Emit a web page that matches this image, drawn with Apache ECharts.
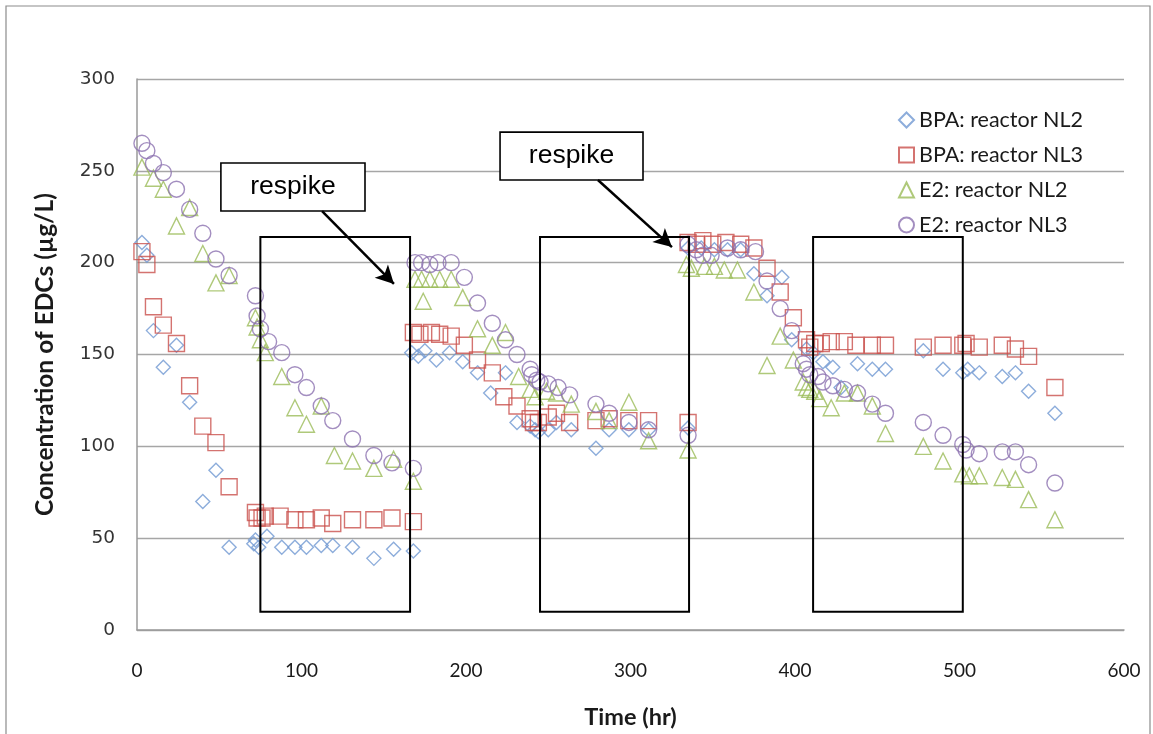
<!DOCTYPE html>
<html>
<head>
<meta charset="utf-8">
<title>Concentration of EDCs over time</title>
<script src="https://cdn.jsdelivr.net/npm/echarts@6/dist/echarts.min.js"></script>
<style>
  html, body { margin: 0; padding: 0; background: #fff; }
  #chart { width: 1153px; height: 734px; }
</style>
</head>
<body>
<div id="chart"></div>
<script>
// Axis ticks
const xTicks = { min: 0, max: 600, step: 100 };
const yTicks = { min: 0, max: 300, step: 50 };

// Measurements: [time (hr), concentration (µg/L)]
const bpaNL2 = [
  [3,211],[6,204],[10,163],[16,143],[24,155],[32,124],[40,70],[48,87],[56,45],[71,47],[72,49],[74,45],[79,51],
  [88,45],[96,45],[103,45],[112,46],[119,46],[131,45],[144,39],[156,44],[168,43],
  [167,151],[171,149],[175,152],[182,147],[190,151],[198,146],[207,140],[215,129],[224,140],[231,113],[239,111],
  [242,109],[244,108],[250,109],[255,113],[264,109],[279,99],[287,109],[299,109],[311,109],[335,110],
  [335,208],[343,208],[351,207],[359,207],[367,207],[375,194],[383,182],[392,192],[398,158],[407,153],[411,151],
  [417,146],[423,143],[428,132],[438,145],[447,142],[455,142],[478,152],[490,142],[502,140],[505,142],[512,140],
  [526,138],[534,140],[542,130],[558,118]
];
const bpaNL3 = [
  [3,206],[6,199],[10,176],[16,166],[24,156],[32,133],[40,111],[48,102],[56,78],[72,64],[73,61],[76,61],[78,62],
  [87,62],[96,60],[103,60],[112,61],[119,58],[131,60],[144,60],[155,61],[168,59],
  [168,162],[172,161],[179,162],[184,161],[191,160],[199,155],[207,147],[216,140],[223,127],[231,122],[239,115],
  [241,113],[244,113],[250,116],[255,118],[263,113],[279,114],[287,115],[299,114],[311,114],[335,113],
  [335,211],[340,210],[344,212],[350,210],[358,211],[367,210],[375,208],[383,197],[391,184],[399,170],[407,158],
  [409,154],[412,156],[416,156],[422,157],[430,157],[437,155],[447,155],[455,155],[478,154],[490,155],[502,155],
  [504,156],[512,154],[526,155],[534,153],[542,149],[558,132]
];
const e2NL2 = [
  [3,252],[10,246],[16,240],[24,220],[32,230],[40,205],[48,189],[56,193],[72,170],[73,165],[75,158],[78,151],
  [88,138],[96,121],[103,112],[112,122],[120,95],[131,92],[144,88],[156,93],[168,81],
  [169,191],[173,191],[174,179],[178,191],[184,191],[191,191],[198,181],[207,164],[216,155],[224,162],[232,138],
  [239,131],[242,127],[249,130],[255,129],[264,123],[279,119],[287,114],[299,124],[311,103],[335,98],
  [334,199],[337,197],[345,198],[351,198],[357,196],[365,196],[375,184],[383,144],[391,160],[399,147],[405,135],
  [407,132],[409,131],[412,130],[415,126],[422,121],[430,129],[438,129],[447,122],[455,107],[478,100],[490,92],
  [502,85],[506,84],[512,84],[526,83],[534,82],[542,71],[558,60]
];
const e2NL3 = [
  [3,265],[6,261],[10,254],[16,249],[24,240],[32,229],[40,216],[48,202],[56,193],[72,182],[73,171],[75,164],
  [80,157],[88,151],[96,139],[103,132],[112,122],[119,114],[131,104],[144,95],[155,91],[168,88],
  [169,200],[173,200],[178,199],[183,200],[191,200],[199,192],[207,178],[216,167],[224,158],[231,150],[239,142],
  [240,139],[243,136],[245,135],[250,134],[256,132],[263,128],[279,123],[287,118],[299,113],[311,109],[335,106],
  [335,210],[340,207],[344,204],[349,204],[359,208],[367,207],[376,206],[383,190],[391,175],[398,163],[405,145],
  [407,142],[409,139],[414,138],[417,135],[423,133],[430,131],[438,129],[447,123],[455,118],[478,113],[490,106],
  [502,101],[504,98],[512,96],[526,97],[534,97],[542,90],[558,80]
];

// Respike monitoring windows: [start hr, end hr]
const windows = [[75, 166], [245, 335.6], [411, 502]];
const windowRange = [10, 214];

// "respike" callouts: box [t0, t1, c0, c1] and arrow [from, to]
const callouts = [
  { box: [51, 138.6, 228.1, 254.3], arrow: [[112.5, 228.1], [156.2, 188.4]] },
  { box: [220.7, 307.6, 245, 271.1], arrow: [[280.2, 245], [325.2, 208.5]] }
];

const seriesDefs = [
  { name: 'BPA: reactor NL2', data: bpaNL2, symbol: 'diamond', size: 14, color: '#7099d2' },
  { name: 'BPA: reactor NL3', data: bpaNL3, symbol: 'rect', size: 16, color: '#c9504c' },
  { name: 'E2: reactor NL2', data: e2NL2, symbol: 'triangle', size: 16, color: '#9bbb59' },
  { name: 'E2: reactor NL3', data: e2NL3, symbol: 'circle', size: 16, color: '#8c72b0' }
];

const labelFont = 'Lato, "Open Sans", sans-serif';

const series = seriesDefs.map(d => ({
  name: d.name,
  type: 'scatter',
  data: d.data,
  symbol: d.symbol,
  symbolSize: d.size,
  itemStyle: { color: 'rgba(255,255,255,0)', borderColor: d.color, borderWidth: 1.4 },
  emphasis: { disabled: true },
  z: 3
}));

// Annotation layer: windows, callout boxes and arrows
series.push({
  name: 'annotations',
  type: 'scatter',
  data: [],
  silent: true,
  z: 4,
  markArea: {
    silent: true,
    z: 4,
    data: windows.map(w => [
      { coord: [w[0], windowRange[0]], itemStyle: { color: 'rgba(0,0,0,0)', borderColor: '#000', borderWidth: 2 } },
      { coord: [w[1], windowRange[1]] }
    ]).concat(callouts.map(c => [
      {
        coord: [c.box[0], c.box[2]],
        itemStyle: { color: '#fff', borderColor: '#000', borderWidth: 1.6 },
        label: {
          show: true, position: 'inside', formatter: 'respike',
          color: '#000', fontSize: 26.5, fontFamily: '"Liberation Sans", Arial, sans-serif'
        }
      },
      { coord: [c.box[1], c.box[3]] }
    ])),
    label: { show: false }
  },
  markLine: {
    silent: true,
    z: 4,
    symbol: ['none', 'arrow'],
    symbolSize: [14, 18],
    label: { show: false },
    lineStyle: { color: '#000', width: 2.5, type: 'solid' },
    data: callouts.map(c => [{ coord: c.arrow[0] }, { coord: c.arrow[1] }])
  }
});

const chart = echarts.init(document.getElementById('chart'), null, { renderer: 'canvas' });
chart.setOption({
  animation: false,
  backgroundColor: '#fff',
  grid: { left: 137, right: 29, top: 79, bottom: 104 },
  graphic: [{
    type: 'rect',
    shape: { x: 6, y: 6, width: 1144, height: 740 },
    style: { fill: 'none', stroke: '#8c8c8c', lineWidth: 1.2 },
    silent: true
  }],
  legend: {
    orient: 'vertical',
    left: 893,
    top: 104,
    itemWidth: 15,
    itemHeight: 15,
    itemGap: 13,
    data: seriesDefs.map(d => d.name),
    textStyle: { fontFamily: labelFont, fontSize: 21.5, color: '#1a1a1a', lineHeight: 21.5 },
    selectedMode: false
  },
  xAxis: {
    type: 'value',
    min: xTicks.min, max: xTicks.max, interval: xTicks.step,
    name: 'Time (hr)',
    nameLocation: 'middle',
    nameGap: 75,
    nameTextStyle: { fontFamily: labelFont, fontWeight: 'bold', fontSize: 23.5, color: '#1a1a1a' },
    axisLine: { show: true, lineStyle: { color: '#9a9a9a', width: 1.5 } },
    axisTick: { show: false },
    axisLabel: { margin: 31, fontFamily: labelFont, fontSize: 19, color: '#1a1a1a' },
    splitLine: { show: false }
  },
  yAxis: {
    type: 'value',
    min: yTicks.min, max: yTicks.max, interval: yTicks.step,
    name: 'Concentration of EDCs (µg/L)',
    nameLocation: 'middle',
    nameGap: 79,
    nameTextStyle: { fontFamily: labelFont, fontWeight: 'bold', fontSize: 24.5, color: '#1a1a1a' },
    axisLine: { show: true, lineStyle: { color: '#9a9a9a', width: 1.5 } },
    axisTick: { show: false },
    axisLabel: { margin: 22, fontFamily: '"DejaVu Sans", Verdana, sans-serif', fontSize: 18.5, color: '#333' },
    splitLine: { show: true, lineStyle: { color: '#a6a6a6', width: 1.3 } }
  },
  series: series
});
</script>
</body>
</html>
